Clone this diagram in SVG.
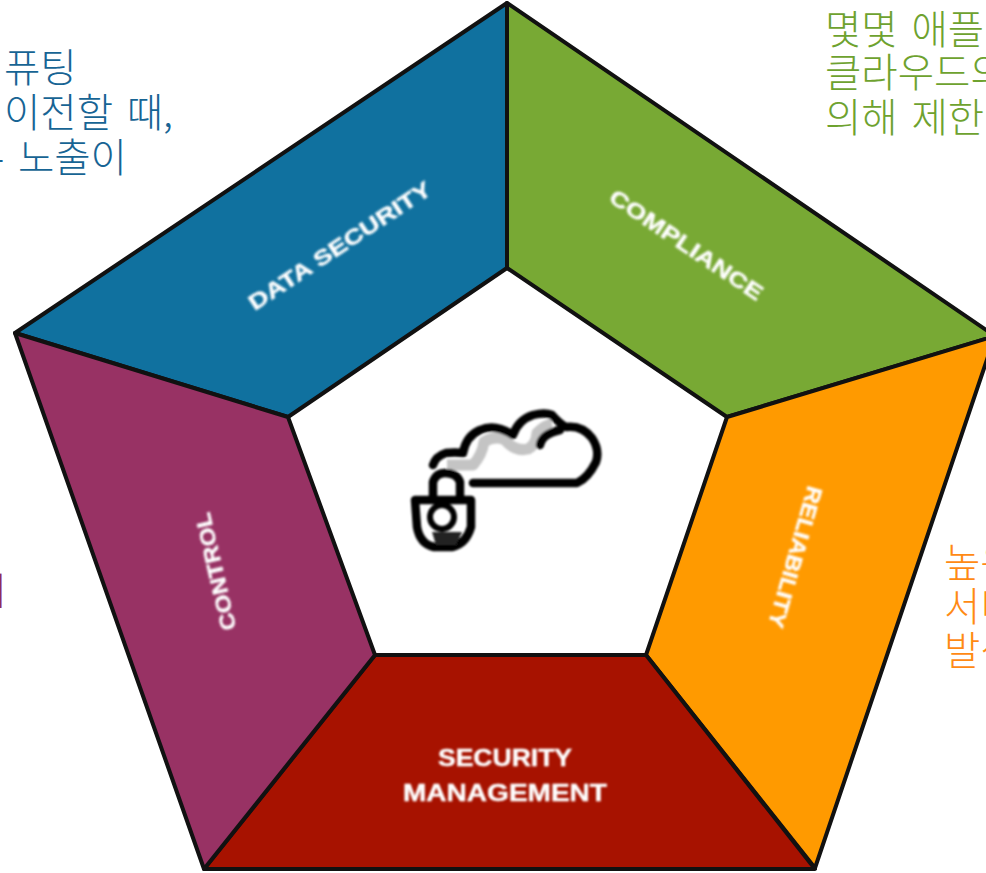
<svg xmlns="http://www.w3.org/2000/svg" width="986" height="873" viewBox="0 0 986 873">
<style>
.k{font-family:"Noto Sans CJK KR",sans-serif;font-size:39.5px;font-weight:300;word-spacing:5px}
.l{font-family:"Liberation Sans",Arial,sans-serif;font-weight:700;fill:#fff;stroke:#fff;stroke-width:.4;text-anchor:middle}
.p{stroke:#111;stroke-width:4;stroke-linejoin:round}
.i{fill:none;stroke:#000;stroke-width:8.5;stroke-linecap:round;stroke-linejoin:round}
</style>
<defs><filter id="b" x="-10%" y="-10%" width="120%" height="120%"><feGaussianBlur stdDeviation=".8"/></filter></defs>
<rect width="986" height="873" fill="#fff"/>
<g id="node-data-security"><polygon class="p" fill="#10719f" points="507,3 507,268 288,417 15,333"/>
<text class="l" font-size="22" filter="url(#b)" textLength="214" lengthAdjust="spacingAndGlyphs" transform="translate(344 252) rotate(-33.5)">DATA SECURITY</text></g>
<g id="node-compliance"><polygon class="p" fill="#78a934" points="507,3 995,336 727,417 507,268"/>
<text class="l" font-size="22" filter="url(#b)" textLength="180" lengthAdjust="spacingAndGlyphs" transform="translate(682 251) rotate(34)">COMPLIANCE</text></g>
<g id="node-reliability"><polygon class="p" fill="#ff9a00" points="995,336 815,868 646,655 727,417"/>
<text class="l" font-size="22" filter="url(#b)" textLength="146" lengthAdjust="spacingAndGlyphs" transform="translate(788 555) rotate(106)">RELIABILITY</text></g>
<g id="node-security-management"><polygon class="p" fill="#a71200" points="375,655 646,655 815,869 204,869"/>
<text class="l" font-size="23" filter="url(#b)" textLength="134" lengthAdjust="spacingAndGlyphs" x="505" y="766">SECURITY</text>
<text class="l" font-size="23" filter="url(#b)" textLength="204" lengthAdjust="spacingAndGlyphs" x="505" y="801">MANAGEMENT</text></g>
<g id="node-control"><polygon class="p" fill="#983264" points="15,333 288,417 375,655 204,869"/>
<text class="l" font-size="22" filter="url(#b)" textLength="120" lengthAdjust="spacingAndGlyphs" transform="translate(223 570) rotate(-103)">CONTROL</text></g>
<g id="node-icon" filter="url(#b)">
<path fill="none" stroke="#c4c4c4" stroke-width="11" stroke-linejoin="round" d="M447 465H473Q482 455 484 442Q495 435 505 440Q515 452 528 449Q536 445 537 433Q545 425 552 424"/>
<path class="i" d="M433 465Q436 456 446 453Q455 452 463 453Q466 436 480 430Q495 423 513 435Q518 420 533 415Q545 412 552 415Q560 424 566 427Q582 425 592 438Q600 450 596 462Q588 478 577 483H473"/>
<path class="i" d="M540 445Q542 434 560 430"/>
<path class="i" d="M433 497V482Q436 473 445 473Q457 473 460 482V497"/>
<path class="i" d="M415 500H471V527Q466 544 452 547H434Q420 544 417 527Z"/>
<circle fill="none" stroke="#000" stroke-width="6" cx="442" cy="517" r="12"/>
<path d="M432 532H462L456 545H436Z" fill="#222"/>
</g>
<g id="connectors"></g>
<g id="text-blue" class="k" fill="#176494">
<text x="4" y="82">퓨팅</text>
<text x="4" y="127">이전할 때,</text>
<text x="-9" y="172">- 노출이</text>
</g>
<g id="text-green" class="k" fill="#6ea22f">
<text x="825" y="44">몇몇 애플</text>
<text x="825" y="87">클라우드의</text>
<text x="825" y="132">의해 제한</text>
</g>
<g id="text-orange" class="k" fill="#ff8a14">
<text x="944" y="577">높은</text>
<text x="944" y="621">서비</text>
<text x="944" y="665">발생</text>
</g>
<g id="text-purple" class="k" fill="#8f2a62">
<text x="-18" y="605">ㅣ</text>
</g>
</svg>
